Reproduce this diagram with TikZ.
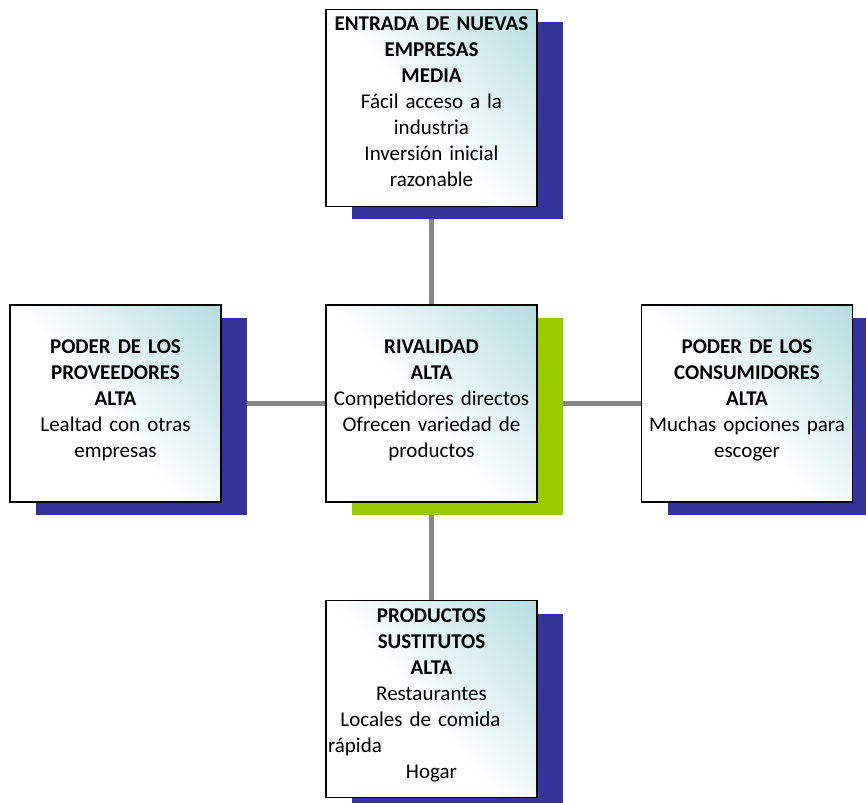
\documentclass[tikz,border=0pt]{standalone}
\usepackage{fontspec}
\setmainfont{Carlito}
\usetikzlibrary{shadows,backgrounds}
\definecolor{navyc}{HTML}{333399}
\definecolor{greenc}{HTML}{99CC00}
\definecolor{tealc}{HTML}{B4DCE0}
\definecolor{linec}{HTML}{878787}
\pgfdeclareverticalshading{boxshade}{100bp}{color(0bp)=(white); color(46bp)=(white); color(86bp)=(tealc); color(100bp)=(tealc)}
\tikzset{
  box/.style={draw=black, line width=1.5pt, shade, shading=boxshade, shading angle=-50,
    minimum width=211pt, minimum height=197pt, text width=207pt, align=center,
    inner sep=0pt, font=\fontsize{21}{26}\selectfont},
  navyshadow/.style={general shadow={fill=navyc, shadow xshift=26pt, shadow yshift=-13pt}},
  greenshadow/.style={general shadow={fill=greenc, shadow xshift=26pt, shadow yshift=-13pt}},
  conn/.style={draw=linec, line width=5.5pt}
}
\begin{document}
\begin{tikzpicture}[x=1pt,y=-1pt]
\useasboundingbox (0,0) rectangle (866,802);
\node[box,navyshadow] (entrada) at (431.5,108)
  {\textbf{ENTRADA DE NUEVAS}\\\textbf{EMPRESAS}\\\textbf{MEDIA}\\Fácil acceso a la\\industria\\Inversión inicial\\razonable\\[-14pt]\mbox{}};
\node[box,navyshadow] (proveedores) at (115.5,403.5)
  {\textbf{PODER DE LOS}\\\textbf{PROVEEDORES}\\\textbf{ALTA}\\Lealtad con otras\\empresas\\[-17pt]\mbox{}};
\node[box,greenshadow] (rivalidad) at (431.5,403.5)
  {\textbf{RIVALIDAD}\\\textbf{ALTA}\\Competidores directos\\Ofrecen variedad de\\productos\\[-17pt]\mbox{}};
\node[box,navyshadow] (consumidores) at (747,403.5)
  {\textbf{PODER DE LOS}\\\textbf{CONSUMIDORES}\\\textbf{ALTA}\\Muchas opciones para\\escoger\\[-17pt]\mbox{}};
\node[box,navyshadow] (sustitutos) at (431.5,699)
  {\textbf{PRODUCTOS}\\\textbf{SUSTITUTOS}\\\textbf{ALTA}\\Restaurantes\\\mbox{Locales de comida\hspace*{22pt}}\\\makebox[207pt][l]{rápida}\\Hogar\\[-15pt]\mbox{}};
\begin{pgfonlayer}{background}
\draw[conn] (entrada.south) -- (rivalidad.north);
\draw[conn] (rivalidad.south) -- (sustitutos.north);
\draw[conn] (proveedores.east) -- (rivalidad.west);
\draw[conn] (rivalidad.east) -- (consumidores.west);
\end{pgfonlayer}
\end{tikzpicture}
\end{document}
